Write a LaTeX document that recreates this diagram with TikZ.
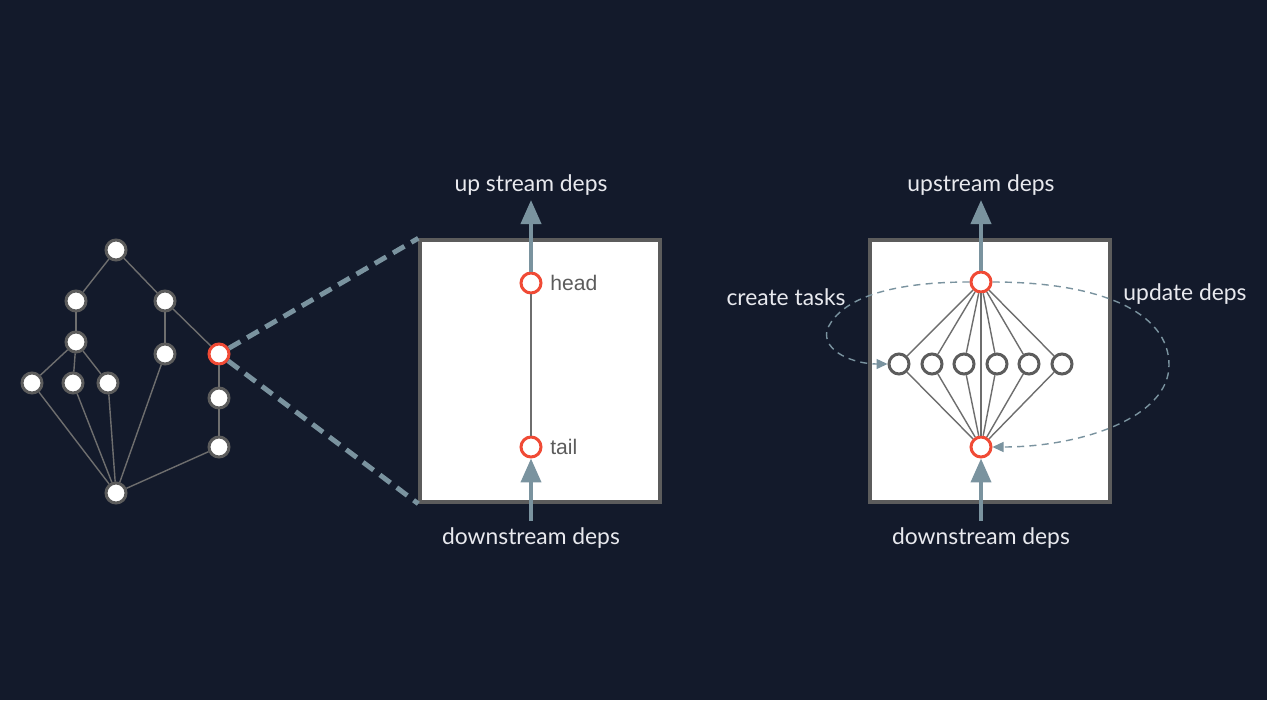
\documentclass[tikz,border=0pt]{standalone}
\usepackage{fontspec}
\setmainfont{Lato}
\newfontfamily\helv{Liberation Sans}
\usetikzlibrary{positioning,arrows.meta}
\definecolor{bgnavy}{HTML}{131A2B}
\definecolor{steel}{HTML}{7A939F}
\definecolor{rimgray}{HTML}{5C5C5C}
\definecolor{wiregray}{HTML}{6E6E6E}
\definecolor{hotred}{HTML}{F04A35}
\definecolor{labelwhite}{HTML}{E8E9EE}

\begin{document}
\begin{tikzpicture}[x=0.02cm, y=-0.02cm, >={Triangle[length=0.48cm,width=0.4cm]},
    every node/.style={font=\fontsize{13}{15}\selectfont},
    dot/.style={circle, draw=rimgray, line width=1.7pt, fill=white, minimum size=0.4cm, inner sep=0pt},
    hot/.style={dot, draw=hotred},
    wire/.style={draw=wiregray, line width=0.8pt},
    flow/.style={->, steel, line width=2.3pt},
    zoomline/.style={steel, line width=2.8pt, dash pattern=on 7.5pt off 4.5pt},
    loopline/.style={-{Triangle[length=0.22cm,width=0.2cm]}, steel, line width=0.8pt, dash pattern=on 4pt off 3pt},
    panel/.style={draw=rimgray, line width=2pt, fill=white, minimum width=4.8cm, minimum height=5.24cm, inner sep=0pt},
    caption/.style={text=labelwhite},
    tag/.style={text=rimgray, font=\helv\fontsize{12}{14}\selectfont, anchor=west, inner sep=0pt}]
    \fill[bgnavy] (0,0) rectangle (1267,700);
    \useasboundingbox (0,0) rectangle (1267,700);

    % small dependency graph
    \node[dot] (g0) at (116,250) {};
    \node[dot] (g1) at (76,301) {};
    \node[dot] (g2) at (165,301) {};
    \node[dot] (g3) at (76,342) {};
    \node[dot] (g4) at (165,354) {};
    \node[hot] (sel) at (219,354) {};
    \node[dot] (g5) at (32,383) {};
    \node[dot] (g6) at (73,383) {};
    \node[dot] (g7) at (108,383) {};
    \node[dot] (g8) at (219,398) {};
    \node[dot] (g9) at (219,447) {};
    \node[dot] (g10) at (116,493) {};
    \foreach \a/\b in {g0/g1,g0/g2,g1/g3,g2/g4,g2/sel,g3/g5,g3/g6,g3/g7,g5/g10,g6/g10,g7/g10,g4/g10,sel/g8,g8/g9,g9/g10}
      \draw[wire] (\a) -- (\b);

    % zoomed node
    \node[panel] (midbox) at (540,371) {};
    \draw[zoomline] (sel) -- (midbox.north west);
    \draw[zoomline] (sel) -- (midbox.south west);
    \node[hot] (headA) at (531,283) {};
    \node[hot] (tailA) at (531,447) {};
    \node[tag] at ([xshift=0.15cm]headA.east) {head};
    \node[tag] at ([xshift=0.15cm]tailA.east) {tail};
    \draw[wire] (headA) -- (tailA);
    \coordinate (upA) at (531,200);
    \coordinate (downA) at (531,521);
    \draw[flow] (headA.north) -- (upA);
    \draw[flow] (downA) -- (tailA.south);
    \node[caption] (upTxtA) at (531,185) {up stream deps};
    \node[caption] (downTxtA) at (531,538) {downstream deps};

    % expanded node
    \node[panel] (rightbox) at (990,371) {};
    \node[hot] (headB) at (981,282) {};
    \node[hot] (tailB) at (981,447) {};
    \foreach \i/\x in {1/899,2/932,3/964,4/997,5/1029,6/1062} {
      \node[dot] (t\i) at (\x,364) {};
      \draw[wire] (headB) -- (t\i);
      \draw[wire] (t\i) -- (tailB);
    }
    \draw[wire] (headB) -- (tailB);
    \draw[loopline] (headB) .. controls (930,282) and (845,286) .. (827,330) .. controls (822,352) and (855,364) .. (t1);
    \draw[loopline] (headB) .. controls (1100,282) and (1169,312) .. (1169,365) .. controls (1169,418) and (1080,447) .. (tailB);
    \coordinate (upB) at (981,200);
    \coordinate (downB) at (981,521);
    \draw[flow] (headB.north) -- (upB);
    \draw[flow] (downB) -- (tailB.south);
    \node[caption] (upTxtB) at (981,185) {upstream deps};
    \node[caption] (downTxtB) at (981,538) {downstream deps};
    \node[caption] (createTxt) at (786,297) {create tasks};
    \node[caption] (updateTxt) at (1185,294) {update deps};
  \end{tikzpicture}
\end{document}
